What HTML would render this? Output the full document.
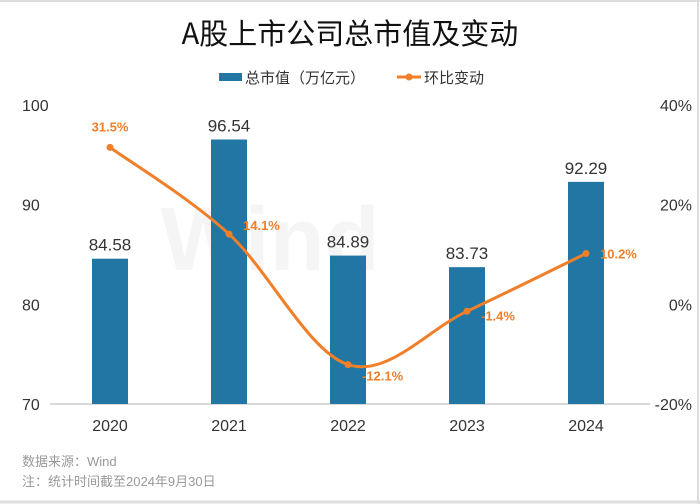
<!DOCTYPE html>
<html><head><meta charset="utf-8"><style>
html,body{margin:0;padding:0;background:#fff;}
svg{display:block;font-family:"Liberation Sans","Noto Sans CJK SC",sans-serif;}
</style></head><body>
<svg id="chart" width="700" height="504" viewBox="0 0 700 504">
<rect x="0" y="0" width="700" height="504" fill="#fff"/>
<line x1="0" y1="1" x2="700" y2="1" stroke="#ddd" stroke-width="2"/>
<line x1="0" y1="502" x2="700" y2="502" stroke="#ddd" stroke-width="3"/>
<line x1="698" y1="0" x2="698" y2="504" stroke="#ddd" stroke-width="2"/>
<text x="350" y="44" text-anchor="middle" font-size="29" fill="#111" font-family="'Noto Sans CJK SC',sans-serif">A股上市公司总市值及变动</text>
<g>
<rect x="219" y="73" width="23" height="8" fill="#2276a3"/>
<text x="245" y="83" font-size="15" fill="#333">总市值（万亿元）</text>
<line x1="397" y1="77" x2="421" y2="77" stroke="#f07f2a" stroke-width="3"/>
<circle cx="409" cy="77" r="3.5" fill="#f07f2a"/>
<text x="424" y="83" font-size="15" fill="#333">环比变动</text>
</g>
<text x="270" y="270" text-anchor="middle" font-size="90" font-weight="bold" fill="#000" fill-opacity="0.04">Wind</text>
<g id="axes"></g>
<g id="bars"></g>
<g id="line"></g>
<text x="22" y="466" font-size="13" fill="#999">数据来源：Wind</text>
<text x="22" y="486" font-size="13" fill="#999">注：统计时间截至2024年9月30日</text>
</svg>
<script>
const categories = ["2020","2021","2022","2023","2024"];
const marketCap = [84.58, 96.54, 84.89, 83.73, 92.29];
const changePct = [31.5, 14.1, -12.1, -1.4, 10.2];
const leftTicks = [70, 80, 90, 100];
const rightTicks = [-20, 0, 20, 40];

const NS = "http://www.w3.org/2000/svg";
const plotTop = 105, plotBottom = 404, plotLeft = 50, plotRight = 650;
const yL = v => plotBottom - (v - 70) / 30 * (plotBottom - plotTop);
const yR = v => plotBottom - (v + 20) / 60 * (plotBottom - plotTop);
const xC = i => 110 + i * 119;
function mk(tag, attrs, parent, text) {
  const e = document.createElementNS(NS, tag);
  for (const k in attrs) e.setAttribute(k, attrs[k]);
  if (text !== undefined) e.textContent = text;
  parent.appendChild(e);
  return e;
}
const axes = document.getElementById("axes");
const bars = document.getElementById("bars");
const line = document.getElementById("line");

let base = mk("line", {x1: plotLeft, y1: plotBottom, x2: plotRight, y2: plotBottom, stroke: "#d9d9d9", "stroke-width": 2}, axes);



leftTicks.forEach(t => {
  const el = mk("text", {x: 22, y: yL(t) + 6, "font-size": 16, fill: "#333"}, axes, String(t));
  
  
});
rightTicks.forEach(t => {
  const el = mk("text", {x: 692, y: yR(t) + 6, "font-size": 16, fill: "#333", "text-anchor": "end"}, axes, t + "%");
  
  
});
categories.forEach((c, i) => {
  const el = mk("text", {x: xC(i), y: 431, "font-size": 16, fill: "#333", "text-anchor": "middle"}, axes, c);
  
  
});
marketCap.forEach((v, i) => {
  const r = mk("rect", {x: xC(i) - 18, y: yL(v), width: 36, height: plotBottom - yL(v), fill: "#2276a3"}, bars);
  
  
  const t = mk("text", {x: xC(i), y: yL(v) - 8, "font-size": 17, fill: "#333", "text-anchor": "middle"}, bars, v.toFixed(2));
  
  
});
const pts = changePct.map((v, i) => [xC(i), yR(v)]);
let d = "M" + pts[0][0] + "," + pts[0][1];
for (let i = 0; i < pts.length - 1; i++) {
  const p0 = pts[Math.max(0, i - 1)], p1 = pts[i], p2 = pts[i + 1], p3 = pts[Math.min(pts.length - 1, i + 2)];
  const k = 1 / 6;
  const c1 = [p1[0] + (p2[0] - p0[0]) * k, p1[1] + (p2[1] - p0[1]) * k];
  const c2 = [p2[0] - (p3[0] - p1[0]) * k, p2[1] - (p3[1] - p1[1]) * k];
  d += " C" + c1.join(",") + " " + c2.join(",") + " " + p2.join(",");
}
const path = mk("path", {d: d, fill: "none", stroke: "#f07f2a", "stroke-width": 3}, line);


const labelPos = [[0, -16, "middle"], [14, -4, "start"], [14, 16, "start"], [14, 9, "start"], [14, 5, "start"]];
pts.forEach((p, i) => {
  const c = mk("circle", {cx: p[0], cy: p[1], r: 3.5, fill: "#f07f2a"}, line);
  
  
  const lp = labelPos[i];
  const t = mk("text", {x: p[0] + lp[0], y: p[1] + lp[1], "font-size": 13, "font-weight": "bold", fill: "#f07f2a", "text-anchor": lp[2]}, line, changePct[i].toFixed(1) + "%");
  
  
});
</script>
</body></html>
